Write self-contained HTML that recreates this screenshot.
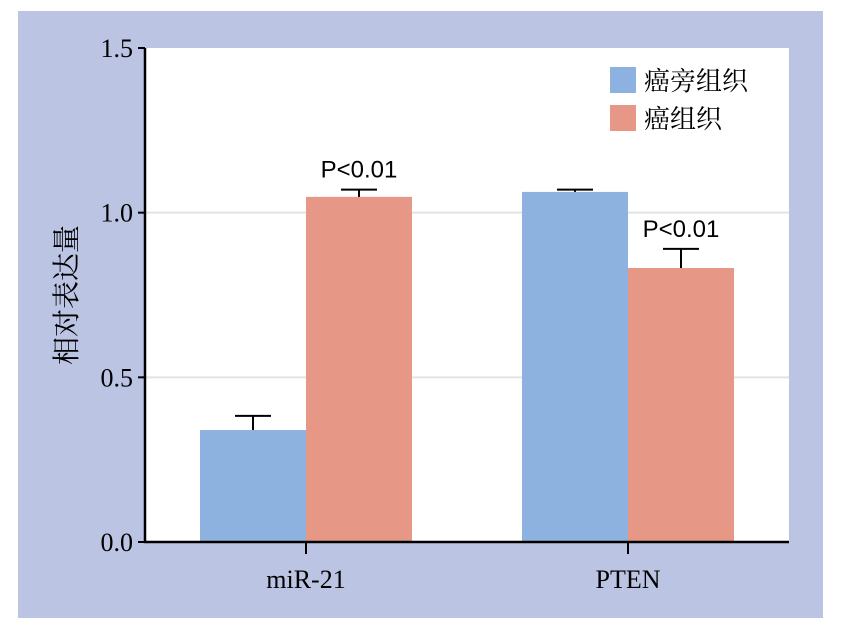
<!DOCTYPE html>
<html><head><meta charset="utf-8"><style>
body{margin:0;background:#fff;}
svg{display:block;}
text{font-family:"Liberation Serif","Noto Serif CJK SC",serif;}
</style></head><body>
<svg id="c" width="842" height="639">
<rect x="18" y="11" width="805" height="607" fill="#bbc4e3"/>
<rect x="145" y="48" width="644" height="494" fill="#fff"/>
<g id="g"></g>
</svg>
<script>
const categories=["miR-21","PTEN"];
const seriesNames=["癌旁组织","癌组织"];
const adjacentValues=[0.34,1.063];
const adjacentErrors=[0.043,0.007];
const tumorValues=[1.048,0.832];
const tumorErrors=[0.022,0.058];
const pLabels=[[null,"P<0.01"],[null,"P<0.01"]];
const yTicks=[0,0.5,1.0,1.5];
const yTickLabels=["0.0","0.5","1.0","1.5"];
const colors=["#8eb2e0","#e79785"];
const NS="http://www.w3.org/2000/svg";
const g=document.getElementById('g');
const y0=542,y1=48,ymax=1.5,xL=145,xR=789;
const yS=v=>y0-(v/ymax)*(y0-y1);
const groupW=(xR-xL)/categories.length, barW=106;
const xC=i=>xL+groupW*(i+0.5);
function mk(t,a){const e=document.createElementNS(NS,t);for(const k in a)e.setAttribute(k,a[k]);g.appendChild(e);return e;}
yTicks.forEach((v,i)=>{
 if(v>0&&v<ymax){const l=mk('line',{x1:xL,x2:xR,y1:yS(v),y2:yS(v),stroke:'#e3e3e3','stroke-width':2});
 
 }
 const t=mk('line',{x1:xL-7,x2:xL,y1:yS(v),y2:yS(v),stroke:'#000','stroke-width':2});
 
 
 const tx=mk('text',{x:xL-12,y:yS(v)+9,'text-anchor':'end','font-size':26});
 tx.textContent=yTickLabels[i];
 
 
});
const series=[[adjacentValues,adjacentErrors],[tumorValues,tumorErrors]];
categories.forEach((c,i)=>{
 series.forEach((s,j)=>{
  const x=xC(i)-barW+j*barW, v=s[0][i], e=s[1][i];
  const b=mk('rect',{x:x,y:yS(v),width:barW,height:y0-yS(v),fill:colors[j]});
  
  
  const cx=x+barW/2;
  const el=mk('path',{d:`M${cx},${yS(v)}V${yS(v+e)}M${cx-18},${yS(v+e)}H${cx+18}`,stroke:'#000','stroke-width':2,fill:'none'});
  
  
  if(pLabels[i][j]){const p=mk('text',{x:cx,y:yS(v+e)-12,'text-anchor':'middle','font-size':24,style:'font-family:"Liberation Sans",sans-serif'});
   p.textContent=pLabels[i][j];
   
   }
 });
 const tk=mk('line',{x1:xC(i),x2:xC(i),y1:y0,y2:y0+12,stroke:'#000','stroke-width':2});
 
 
 const t=mk('text',{x:xC(i),y:y0+46,'text-anchor':'middle','font-size':26});
 t.textContent=c;
 
 
});
const ax=mk('path',{d:`M${xL},${y1}V${y0}H${xR}`,stroke:'#000','stroke-width':2.5,fill:'none'});


const yt=mk('text',{x:0,y:0,'text-anchor':'middle','font-size':28,transform:'translate(76,295) rotate(-90)'});
yt.textContent='相对表达量';


seriesNames.forEach((n,j)=>{
 const r=mk('rect',{x:610,y:67+j*38,width:26,height:26,fill:colors[j]});
 
 
 const t=mk('text',{x:644,y:90+j*38,'font-size':26});
 t.textContent=n;
 
 
});
</script>
</body></html>
